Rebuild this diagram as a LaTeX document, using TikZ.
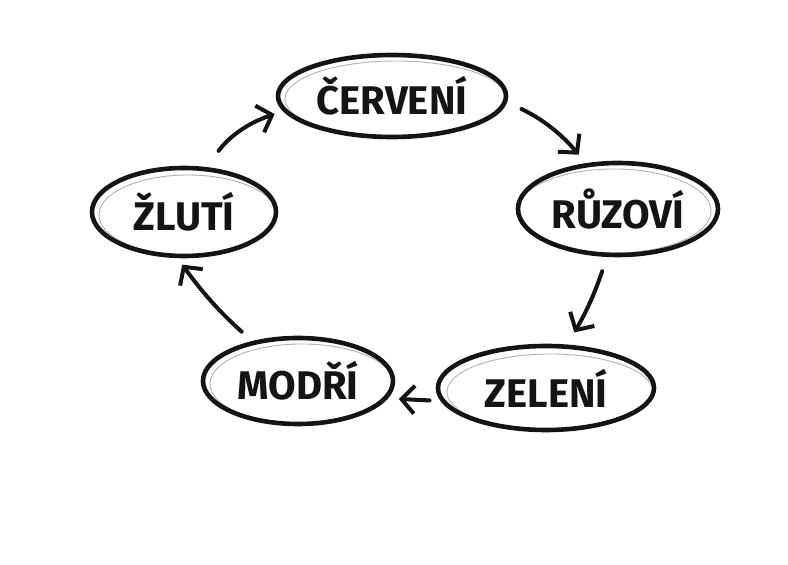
\documentclass[tikz,border=0pt]{standalone}
\usepackage{fontspec}
\setmainfont{Fira Sans}
\usetikzlibrary{shapes.geometric,arrows.meta}
\definecolor{ink}{HTML}{141414}
\tikzset{
  bubble/.style={ellipse, draw=ink, line width=4.6pt, inner sep=0pt,
    font=\fontsize{40}{42}\selectfont\bfseries, text=ink},
  ghost/.style={ellipse, draw=black!30, line width=0.9pt, inner sep=0pt},
  flow/.style={draw=ink, line width=4pt, line cap=round, line join=round,
    -{Straight Barb[length=13pt,width=28pt,line width=4pt]}}
}
\begin{document}
\begin{tikzpicture}[x=1pt,y=1pt]
\useasboundingbox (0,0) rectangle (788,565);
\fill[white] (0,0) rectangle (788,565);
% sketch ghost strokes
\node[ghost, minimum width=222pt, minimum height=76pt] at (396,466) {};
\node[ghost, minimum width=194pt, minimum height=84pt] at (614,354) {};
\node[ghost, minimum width=206pt, minimum height=76pt] at (550,173) {};
\node[ghost, minimum width=184pt, minimum height=80pt] at (302,181) {};
\node[ghost, minimum width=178pt, minimum height=80pt] at (188,350) {};
% nodes
\node[bubble, minimum width=228pt, minimum height=82pt] (cer) at (392,469) {ČERVENÍ};
\node[bubble, minimum width=200pt, minimum height=92pt] (ruz) at (618,356) {RŮZOVÍ};
\node[bubble, minimum width=216pt, minimum height=84pt] (zel) at (546,177) {ZELENÍ};
\node[bubble, minimum width=190pt, minimum height=86pt] (mod) at (298,184) {MODŘÍ};
\node[bubble, minimum width=184pt, minimum height=88pt] (zlu) at (184,353) {ŽLUTÍ};
% connectors
\draw[flow, shorten <=20pt, shorten >=9pt] (zlu.63) to[bend left=18] (cer.188);
\draw[flow, shorten <=16pt, shorten >=11pt] (cer.-3) to[bend left=12] (ruz.125);
\draw[flow, shorten <=15pt, shorten >=14pt] (ruz.257) to[bend left=6] (zel.64);
\draw[flow, shorten <=11pt, shorten >=11pt] (zel.187) to (mod.-11);
\draw[flow, shorten <=14pt, shorten >=8pt] (mod.139) to[bend left=6] (zlu.262);
\end{tikzpicture}
\end{document}
